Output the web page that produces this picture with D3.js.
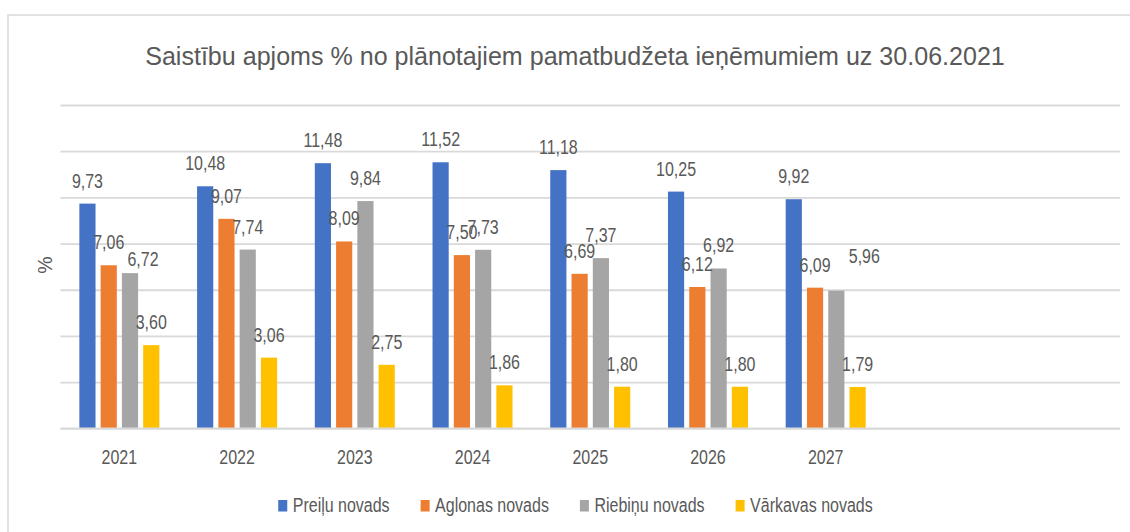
<!DOCTYPE html>
<html>
<head>
<meta charset="utf-8">
<script src="https://cdn.jsdelivr.net/npm/d3@7"></script>
<style>
body { margin: 0; background: #fff; }
svg { display: block; }
text { font-family: 'Liberation Sans', Arial, sans-serif; fill: #595959; }
</style>
</head>
<body>
<div id="chart"></div>
<script>
var years = ['2021', '2022', '2023', '2024', '2025', '2026', '2027'];
var seriesNames = ['Preiļu novads', 'Aglonas novads', 'Riebiņu novads', 'Vārkavas novads'];
var preilu  = [9.73, 10.48, 11.48, 11.52, 11.18, 10.25, 9.92];
var aglona  = [7.06, 9.07, 8.09, 7.50, 6.69, 6.12, 6.09];
var riebini = [6.72, 7.74, 9.84, 7.73, 7.37, 6.92, 5.96];
var varkava = [3.60, 3.06, 2.75, 1.86, 1.80, 1.80, 1.79];
var yTicks = [0, 2, 4, 6, 8, 10, 12, 14];
var title = 'Saistību apjoms % no plānotajiem pamatbudžeta ieņēmumiem uz 30.06.2021';
var yTitle = '%';

var colors = ['#4472C4', '#ED7D31', '#A5A5A5', '#FFC000'],
    width = 1130,
    height = 532,
    nSlots = 9,              // two empty categories on the right
    plotLeft = 60.5,
    plotRight = 1120,
    plotTop = 105,
    plotBottom = 428.3,
    fontSize = 19.5,
    narrow = 0.82;           // squeeze text horizontally (no narrow font installed)

// labels that were dragged by hand in the original
var labelShift = { '2-0': [13, 9], '2-6': [28, -12] };

var series = [preilu, aglona, riebini, varkava].map(function (v, i) {
    return { name: seriesNames[i], values: v, color: colors[i], idx: i };
});

var fmt = d3.formatLocale({ decimal: ',', thousands: ' ', grouping: [3], currency: ['', ''] }).format('.2f');

function place(x, y) {
    return 'translate(' + x + ',' + y + ') scale(' + narrow + ',1)';
}

var svg = d3.select('#chart').append('svg')
    .attr('width', width)
    .attr('height', height);

// chart frame
svg.append('rect')
    .attr('x', 8).attr('y', 15)
    .attr('width', 1135).attr('height', 540)
    .attr('fill', '#fff')
    .attr('stroke', '#D9D9D9')
    .attr('stroke-width', 1.5);

var x0 = d3.scaleBand().domain(d3.range(nSlots)).range([plotLeft, plotRight]);
var x1 = d3.scaleBand().domain(d3.range(series.length)).range([-40, 40]).paddingInner(0.24);
var y = d3.scaleLinear().domain([0, 14]).range([plotBottom, plotTop]);

// gridlines
svg.append('g')
    .attr('transform', 'translate(' + plotLeft + ',0)')
    .call(d3.axisLeft(y).tickValues(yTicks).tickSize(-(plotRight - plotLeft)).tickFormat(''))
    .call(function (g) {
        g.select('.domain').remove();
        g.selectAll('line').attr('stroke', '#D9D9D9').attr('stroke-width', 1.8);
    });

// x axis labels
svg.append('g')
    .attr('transform', 'translate(0,' + plotBottom + ')')
    .call(d3.axisBottom(x0).tickSize(0).tickPadding(0).tickFormat(function (i) { return years[i] || ''; }))
    .call(function (g) {
        g.select('.domain').remove();
        g.selectAll('text')
            .attr('dy', null)
            .attr('y', null)
            .attr('transform', place(0, 36))
            .attr('fill', '#595959')
            .style('font-size', fontSize + 'px')
            .style('font-family', null);
    });

function cx(s, i) {
    return x0(i) + x0.bandwidth() / 2 + x1(s.idx);
}

var groups = svg.append('g').selectAll('g.series').data(series).enter()
    .append('g').attr('class', 'series');

groups.selectAll('rect').data(function (s) { return s.values.map(function (v, i) { return { s: s, v: v, i: i }; }); })
    .enter().append('rect')
    .attr('x', function (d) { return cx(d.s, d.i); })
    .attr('y', function (d) { return y(d.v); })
    .attr('width', x1.bandwidth())
    .attr('height', function (d) { return y(0) - y(d.v); })
    .attr('fill', function (d) { return d.s.color; });

var labels = svg.append('g').selectAll('g.labels').data(series).enter()
    .append('g').attr('class', 'labels');

labels.selectAll('text').data(function (s) { return s.values.map(function (v, i) { return { s: s, v: v, i: i }; }); })
    .enter().append('text')
    .attr('text-anchor', 'middle')
    .style('font-size', fontSize + 'px')
    .attr('transform', function (d) {
        var sh = labelShift[d.s.idx + '-' + d.i] || [0, 0];
        return place(cx(d.s, d.i) + x1.bandwidth() / 2 + sh[0], y(d.v) - 16 + sh[1]);
    })
    .text(function (d) { return fmt(d.v); });

// baseline
svg.append('line')
    .attr('x1', plotLeft).attr('x2', plotRight)
    .attr('y1', plotBottom).attr('y2', plotBottom)
    .attr('stroke', '#D9D9D9').attr('stroke-width', 1.8);

// title
var t = svg.append('text')
    .attr('x', 575).attr('y', 65)
    .attr('text-anchor', 'middle')
    .style('font-size', '24px')
    .text(title);
var tl = t.node().getComputedTextLength();
t.style('font-size', (24 * 860 / tl) + 'px');

// y axis title
svg.append('text')
    .attr('transform', 'translate(52,265) rotate(-90)')
    .attr('text-anchor', 'middle')
    .style('font-size', fontSize + 'px')
    .text(yTitle);

// legend
var legend = svg.append('g');
var items = legend.selectAll('g').data(series).enter().append('g');
items.append('rect')
    .attr('y', 500).attr('width', 9).attr('height', 11.5)
    .attr('fill', function (d) { return d.color; });
items.append('text')
    .attr('transform', place(14.5, 511.5))
    .style('font-size', fontSize + 'px')
    .text(function (d) { return d.name; });
var pos = 0;
items.each(function () {
    var w = d3.select(this).select('text').node().getComputedTextLength() * narrow;
    d3.select(this).attr('transform', 'translate(' + pos + ',0)');
    pos += 14.5 + w + 31;
});
var total = pos - 31;
legend.attr('transform', 'translate(' + (575.5 - total / 2) + ',0)');
</script>
</body>
</html>
